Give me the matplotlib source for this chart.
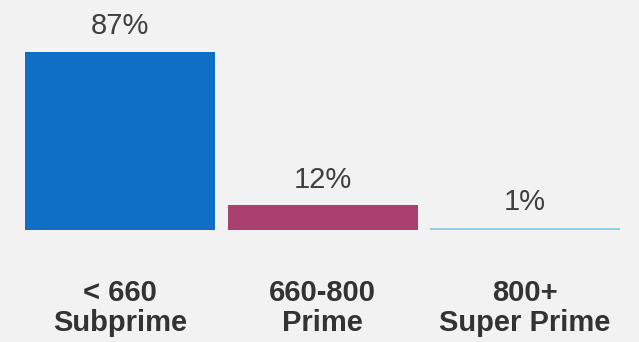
import matplotlib
matplotlib.use("Agg")
import matplotlib.pyplot as plt

categories = ["< 660\nSubprime", "660-800\nPrime", "800+\nSuper Prime"]
values = [87, 12, 1]
value_labels = ["87%", "12%", "1%"]
colors = ["#0F6FC6", "#A9406F", "#92CFE5"]

plt.rcParams['font.family'] = ['Liberation Sans', 'DejaVu Sans']
bg = "#F2F2F2"
fig = plt.figure(figsize=(6.39, 3.42), dpi=100, facecolor=bg)
ax = fig.add_axes([0, 112/342, 1, 230/342])
ax.set_facecolor(bg)
x = list(range(len(categories)))
bars = ax.bar(x, values, width=190/202.5, color=colors)
ax.set_xlim(-120/202.5, (639-120)/202.5)
ax.set_ylim(0, 230/2.046)
for xi, v, lab in zip(x, values, value_labels):
    ax.annotate(lab, (xi, v), xytext=(0, 8.5), textcoords='offset points',
                ha='center', va='bottom', fontsize=21, color='#404040')
ax.set_xticks(x)
ax.set_xticklabels(categories, fontsize=21, fontweight='bold', color='#333333',
                   linespacing=1.07)
ax.tick_params(axis='x', length=0, pad=35.5)
ax.set_yticks([])
for s in ax.spines.values():
    s.set_visible(False)
fig.savefig("out.png", dpi=100, facecolor=bg)
